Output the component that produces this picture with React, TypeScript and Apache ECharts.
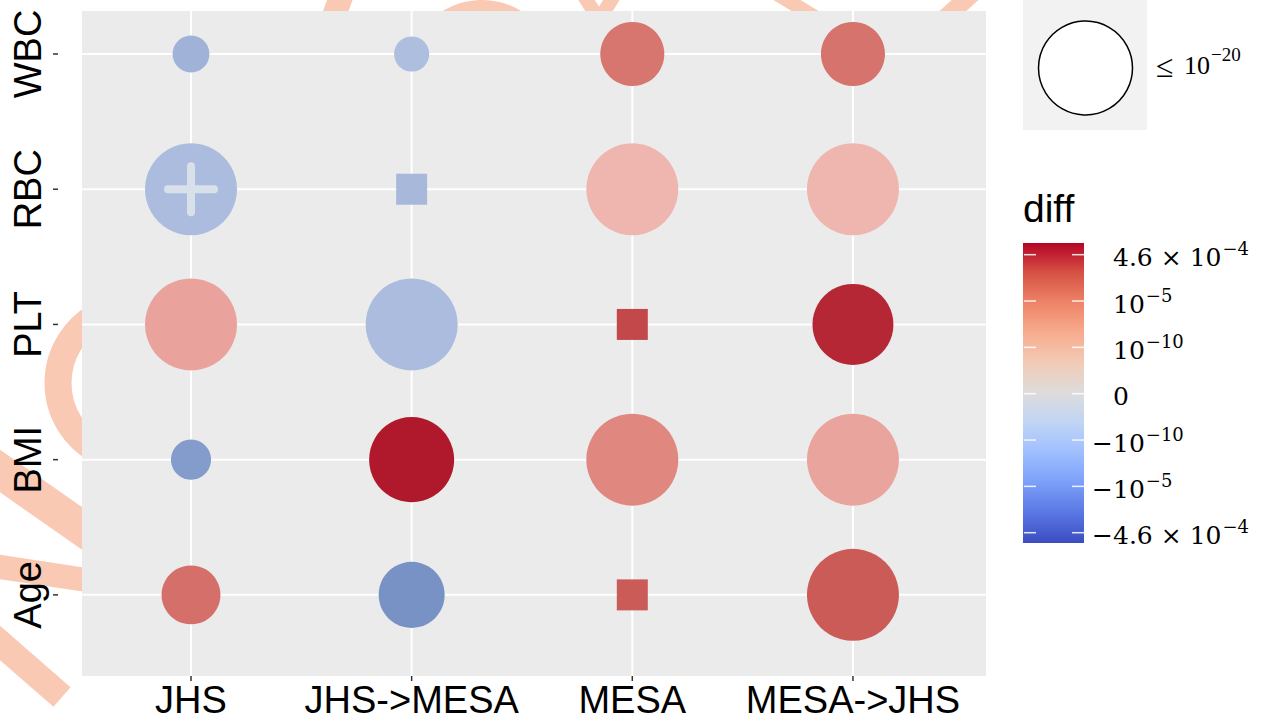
import React, { useEffect, useRef } from 'react';
import * as echarts from 'echarts';

// ---------------- data ----------------
const xCategories = ['JHS', 'JHS->MESA', 'MESA', 'MESA->JHS'];
const yCategories = ['Age', 'BMI', 'PLT', 'RBC', 'WBC']; // bottom -> top

// −log10(p) per cell (capped at 20, legend "≤ 10^−20"); null = square marker
const negLogP_WBC = [3.2, 2.9, 9.7, 9.7];
const negLogP_RBC = [20, null, 20, 20];
const negLogP_PLT = [20, 20, null, 15.5];
const negLogP_BMI = [3.8, 17.1, 20, 20];
const negLogP_Age = [8.2, 10.3, null, 20];

// diff, on the (symmetric-log) colour scale, -1 … 1
const diff_WBC = [-0.43, -0.3, 0.6, 0.61];
const diff_RBC = [-0.33, -0.37, 0.26, 0.26];
const diff_PLT = [0.36, -0.33, 0.81, 0.93];
const diff_BMI = [-0.7, 0.98, 0.5, 0.35];
const diff_Age = [0.63, -0.84, 0.74, 0.74];

const crossCells = [['JHS', 'RBC']];

// colour-bar tick labels (top -> bottom)
const cbSigns = ['', '', '', '', '−', '−', '−'];
const cbMantissas = ['4.6', '', '', '0', '', '', '4.6'];
const cbExponents = ['−4', '−5', '−10', '', '−10', '−5', '−4'];

const sizeLegendBase = '10';
const sizeLegendExp = '−20';
const colorTitle = 'diff';

// ---------------- styles ----------------
const rowsNegLogP: Record<string, (number | null)[]> = {
  WBC: negLogP_WBC, RBC: negLogP_RBC, PLT: negLogP_PLT, BMI: negLogP_BMI, Age: negLogP_Age,
};
const rowsDiff: Record<string, number[]> = {
  WBC: diff_WBC, RBC: diff_RBC, PLT: diff_PLT, BMI: diff_BMI, Age: diff_Age,
};

const bubbleStops = ['#6C87C0', '#7F98C9', '#98ACD4', '#B4C3E2', '#E6E6E6', '#F0B8B2', '#E08780', '#CA5955', '#AE1328'];
const coolwarm = ['#3B4CC0', '#5977E3', '#7B9FF9', '#9EBEFF', '#C0D4F5', '#DDDCDC', '#F2CBB7', '#F7AC8E', '#EE8468', '#D65244', '#B40426'];
const SALMON = '#F9C9B3';
const SANS = '"Liberation Sans", Arial, Helvetica, sans-serif';
const SERIF_CB = '"DejaVu Serif", serif';
const SERIF_LG = '"Liberation Serif", "Times New Roman", serif';
const MAX_D = 92;

let _ctx: CanvasRenderingContext2D | null = null;
function tw(text: string, size: number, family: string) {
  if (!_ctx) _ctx = document.createElement('canvas').getContext('2d');
  _ctx!.font = `${size}px ${family}`;
  return _ctx!.measureText(text).width;
}

function buildOption() {
  const scatterData: any[] = [];
  yCategories.forEach((row, yi) => {
    const sig = rowsNegLogP[row];
    const dif = rowsDiff[row];
    xCategories.forEach((_, xi) => {
      const s = sig[xi];
      const isSq = s === null;
      scatterData.push({
        value: [xi, yi, isSq ? 0 : s, dif[xi]],
        symbol: isSq ? 'rect' : 'circle',
        symbolSize: isSq ? 31 : MAX_D * Math.sqrt(Math.min(s as number, 20) / 20),
      });
    });
  });

  const graphics: any[] = [];
  const deco = (el: any) => graphics.push({ ...el, z: -1, silent: true });
  const st = (lw: number) => ({ fill: 'none', stroke: SALMON, lineWidth: lw, lineCap: 'butt', lineJoin: 'miter' });
  deco({ type: 'circle', shape: { cx: 135, cy: 383, r: 77 }, style: st(27) });
  deco({ type: 'line', shape: { x1: -20, y1: 457, x2: 100, y2: 541 }, style: st(35) });
  deco({ type: 'line', shape: { x1: -20, y1: 564, x2: 100, y2: 582 }, style: st(24) });
  deco({ type: 'line', shape: { x1: -40, y1: 608, x2: 62, y2: 697 }, style: st(26) });
  deco({ type: 'line', shape: { x1: 347, y1: -20, x2: 329, y2: 30 }, style: st(24) });
  deco({ type: 'circle', shape: { cx: 482, cy: 75, r: 62 }, style: st(26) });
  deco({ type: 'polyline', shape: { points: [[568, -30], [599, 20], [630, -30]] }, style: st(14) });
  deco({ type: 'line', shape: { x1: 762, y1: -15, x2: 830, y2: 26 }, style: st(14) });
  deco({ type: 'line', shape: { x1: 987, y1: -20, x2: 931, y2: 31 }, style: st(18) });

  // size legend
  graphics.push({ type: 'rect', shape: { x: 1023, y: 0, width: 124, height: 130 }, style: { fill: '#F2F2F2' }, z: 5 });
  graphics.push({ type: 'circle', shape: { cx: 1085.5, cy: 68, r: 47 }, style: { fill: '#FFFFFF', stroke: '#000', lineWidth: 1.5 }, z: 6 });
  graphics.push({ type: 'text', x: 1156, y: 66, z: 6, style: { text: '≤', fontSize: 32, fontFamily: SERIF_LG, fill: '#000', align: 'left', verticalAlign: 'middle' } });
  graphics.push({ type: 'text', x: 1184, y: 65, z: 6, style: { text: sizeLegendBase, fontSize: 26, fontFamily: SERIF_LG, fill: '#000', align: 'left', verticalAlign: 'middle' } });
  const lbw = tw(sizeLegendBase, 26, SERIF_LG);
  graphics.push({ type: 'text', x: 1184 + lbw + 1, y: 54, z: 6, style: { text: sizeLegendExp, fontSize: 19, fontFamily: SERIF_LG, fill: '#000', align: 'left', verticalAlign: 'middle' } });

  // colour legend
  graphics.push({ type: 'text', x: 1023, y: 208, z: 6, style: { text: colorTitle, fontSize: 39, fontFamily: SANS, fill: '#000', align: 'left', verticalAlign: 'middle' } });
  const cbTop = 243, cbH = 300, cbX = 1023, cbW = 61;
  graphics.push({
    type: 'rect', shape: { x: cbX, y: cbTop, width: cbW, height: cbH }, z: 5,
    style: { fill: new echarts.graphic.LinearGradient(0, 1, 0, 0, coolwarm.map((c, i) => ({ offset: i / (coolwarm.length - 1), color: c }))) },
  });
  const t0 = 254.7, t1 = 532.7;
  cbExponents.forEach((exp, i) => {
    const ty = t0 + (i * (t1 - t0)) / (cbExponents.length - 1);
    graphics.push({ type: 'line', z: 6, shape: { x1: cbX + 1, y1: ty, x2: cbX + 13, y2: ty }, style: { stroke: 'rgba(255,255,255,0.85)', lineWidth: 1.5 } });
    graphics.push({ type: 'line', z: 6, shape: { x1: cbX + cbW - 12, y1: ty, x2: cbX + cbW, y2: ty }, style: { stroke: 'rgba(255,255,255,0.85)', lineWidth: 1.5 } });
    const fs = 25, sfs = 18;
    const baseY = ty + 3, supY = ty - 6;
    let x = 1113;
    const txt = (t: string, xx: number, yy: number, size: number, align = 'left') =>
      graphics.push({ type: 'text', x: xx, y: yy, z: 6, style: { text: t, fontSize: size, fontFamily: SERIF_CB, fill: '#000', align, verticalAlign: 'middle' } });
    if (cbSigns[i]) txt(cbSigns[i], x, baseY, fs, 'right');
    const mant = cbMantissas[i];
    if (mant === '0') {
      txt('0', x, baseY, fs);
      return;
    }
    if (mant) {
      txt(mant, x, baseY, fs);
      x += tw(mant, fs, SERIF_CB) + 8;
      txt('×', x, baseY, fs);
      x += tw('×', fs, SERIF_CB) + 8;
    }
    txt('10', x, baseY, fs);
    x += tw('10', fs, SERIF_CB) + 1;
    txt(exp, x, supY, sfs);
  });

  return {
    animation: false,
    grid: { left: 82, top: 11, width: 904, height: 665, show: true, backgroundColor: '#EBEBEB', borderWidth: 0 },
    xAxis: { type: 'value', min: -0.494, max: 3.603, show: false },
    yAxis: { type: 'value', min: -0.6, max: 4.318, show: false },
    visualMap: {
      type: 'continuous', show: false, min: -1, max: 1, dimension: 3, seriesIndex: 2,
      inRange: { color: bubbleStops },
    },
    graphic: graphics,
    series: [
      {
        type: 'custom', z: 1, silent: true, clip: false,
        data: xCategories.map((_, i) => [i, 0]),
        renderItem: (params: any, api: any) => {
          const cs = params.coordSys;
          const i = api.value(0);
          const px = api.coord([i, 0])[0];
          const bottom = cs.y + cs.height;
          return {
            type: 'group',
            children: [
              { type: 'line', shape: { x1: px, y1: cs.y, x2: px, y2: bottom }, style: { stroke: '#FFFFFF', lineWidth: 2 } },
              { type: 'line', shape: { x1: px, y1: bottom, x2: px, y2: bottom + 5 }, style: { stroke: '#333333', lineWidth: 1.5 } },
              { type: 'text', x: px, y: bottom + 24, style: { text: xCategories[i], fontSize: 38, fontFamily: SANS, fill: '#000', align: 'center', verticalAlign: 'middle' } },
            ],
          };
        },
      },
      {
        type: 'custom', z: 1, silent: true, clip: false,
        data: yCategories.map((_, i) => [0, i]),
        renderItem: (params: any, api: any) => {
          const cs = params.coordSys;
          const i = api.value(1);
          const py = api.coord([0, i])[1];
          return {
            type: 'group',
            children: [
              { type: 'line', shape: { x1: cs.x, y1: py, x2: cs.x + cs.width, y2: py }, style: { stroke: '#FFFFFF', lineWidth: 2 } },
              { type: 'line', shape: { x1: cs.x - 29, y1: py, x2: cs.x - 24, y2: py }, style: { stroke: '#333333', lineWidth: 1.5 } },
              { type: 'text', x: cs.x - 54.5, y: py, rotation: Math.PI / 2, style: { text: yCategories[i], fontSize: 38, fontFamily: SANS, fill: '#000', align: 'center', verticalAlign: 'middle' } },
            ],
          };
        },
      },
      {
        type: 'scatter', z: 3, silent: true,
        data: scatterData,
        itemStyle: { opacity: 1 },
        emphasis: { disabled: true },
      },
      {
        type: 'custom', z: 4, silent: true,
        data: crossCells.map(([c, r]) => [xCategories.indexOf(c), yCategories.indexOf(r)]),
        renderItem: (_params: any, api: any) => {
          const p = api.coord([api.value(0), api.value(1)]);
          const s = { stroke: '#D8E1EA', lineWidth: 8, lineCap: 'round' };
          return {
            type: 'group',
            children: [
              { type: 'line', shape: { x1: p[0] - 23, y1: p[1], x2: p[0] + 23, y2: p[1] }, style: s },
              { type: 'line', shape: { x1: p[0], y1: p[1] - 23, x2: p[0], y2: p[1] + 23 }, style: s },
            ],
          };
        },
      },
    ],
  };
}

export default function App() {
  const ref = useRef<HTMLDivElement>(null);
  useEffect(() => {
    if (!ref.current) return;
    const chart = echarts.init(ref.current, undefined, { renderer: 'svg' });
    chart.setOption(buildOption() as any);
    return () => chart.dispose();
  }, []);
  return <div ref={ref} style={{ position: 'fixed', left: 0, top: 0, width: 1272, height: 724, background: '#fff' }} />;
}
